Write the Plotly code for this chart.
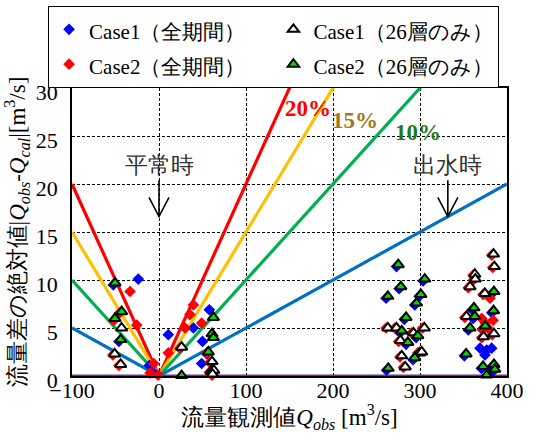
import plotly.graph_objects as go

# ---- data -------------------------------------------------------------
# error-band percentages and their colours
band_pct = [20, 15, 10, 5, 0]
band_color = ["#ff0000", "#ffc000", "#00b050", "#0070c0", "#7030a0"]
band_label_color = ["#ff0000", "#a07818", "#1f7a1f", "#3c2fd2", "#7030a0"]
band_label_x = [171, 225, 298, 423, 425]
band_label_y = [27.9, 26.6, 25.4, 19.9, 1.3]
band_x = [-100, 0, 400]

# Case1 (全期間) – blue diamonds
c1_all_x = [-52.5, -23.8, -46, -11, -8, 10.7, 39.5, 57.8, 50, 49, 55,
            273, 303.5, 276, 261, 299, 294, 282, 277, 295.5, 284, 292, 261.5,
            383, 360, 382.5, 361, 355.5, 373, 351, 370.5, 383, 384, 374.5,
            369, 376.7, 382.4, 374.7]
c1_all_y = [9.5, 10.1, 3.6, 1.1, 0.5, 4.3, 5.0, 6.9, 3.6, 1.3, 2.3,
            11.4, 9.9, 9.1, 8.1, 8.3, 7.4, 5.9, 4.5, 4.0, 3.3, 1.7, 0.6,
            8.6, 6.9, 6.6, 6.0, 4.8, 5.0, 2.1, 0.8, 1.0, 0.5, -0.1,
            2.9, 2.7, 2.9, 2.2]

# Case2 (全期間) – red diamonds
c2_all_x = [-33.3, -25.6, -10.3, -6, -1, -52, -45, -53, -46, 10.7, 30, 35.6,
            39.5, 49, 55, 24, 58.5, 58, 61,
            261, 271, 303, 290.5, 275.5, 277, 297.5, 281,
            382.5, 383.5, 361, 361.5, 355.5, 372.5, 351.5, 371, 383,
            380.5, 371, 375, 384, 378, 372]
c2_all_y = [8.8, 5.3, 0.3, 1.3, 0.1, 5.8, 6.6, 2.2, 1.1, 2.4, 5.0, 6.4,
            7.4, 5.5, 2.4, 2.9, 1.4, 0.4, 0.1,
            5.0, 5.0, 5.0, 4.5, 3.6, 2.0, 2.4, 0.9,
            12.6, 11.3, 10.5, 10.0, 9.2, 8.5, 6.1, 4.0, 4.3,
            8.1, 6.0, 5.5, 5.8, 5.0, 4.8]

# Case1 (26層のみ) – open triangles
c1_26_x = [-43, -51, -44, 26, 61, 60, 63, 61.5,
           263, 273, 305, 292.5, 277.5, 279, 299.5, 302, 283,
           384.5, 385.5, 363, 363.5, 357.5, 374.5, 353.5, 373, 385]
c1_26_y = [5.0, 2.3, 1.2, 3.0, 1.5, 0.5, 0.6, 0.2,
           5.0, 5.0, 5.0, 4.5, 3.7, 2.1, 2.4, 2.5, 0.95,
           12.7, 11.4, 10.6, 10.1, 9.3, 8.6, 6.2, 4.1, 4.4]

# Case2 (26層のみ) – green triangles
c2_26_x = [-50.6, -43, -50.6, -44, 26, 62.5, 61, 62.5, 56.7,
           275, 305.5, 278, 263, 301, 296, 284, 279, 297.5, 286, 294, 263.5,
           385, 362, 384.5, 363, 357.5, 375, 353, 372.5, 385, 386, 376.5]
c2_26_y = [9.7, 6.7, 6.0, 3.8, 0.05, 6.1, 4.4, 4.0, 2.5,
           11.6, 10.1, 9.3, 8.3, 8.5, 7.6, 6.1, 4.7, 4.2, 3.5, 1.9, 0.8,
           8.8, 7.1, 6.8, 6.2, 5.0, 5.2, 2.3, 1.0, 1.2, 0.7, 0.1]

x_ticks = [-100, 0, 100, 200, 300, 400]
y_ticks = [0, 5, 10, 15, 20, 25, 30]

# callouts: text, arrow x, text y, arrow top, arrow tip
callouts = [("平常時", 0, 21.9, 20.4, 16.6), ("出水時", 332, 21.9, 20.4, 16.6)]

SERIF = "Liberation Serif, Times New Roman, serif"


def legend_name(txt):
    # legend rows are spaced by the legend font; entries themselves drawn a bit smaller
    return f'<span style="font-size:21px">{txt}</span>'


fig = go.Figure()

# error bands |Qobs - Qcal| = p% * |Qobs|
for pct, col in zip(band_pct, band_color):
    fig.add_trace(go.Scatter(
        x=band_x, y=[pct / 100 * abs(v) for v in band_x],
        mode="lines", line=dict(color=col, width=3.2),
        showlegend=False, hoverinfo="skip"))

fig.add_trace(go.Scatter(
    x=c1_all_x, y=c1_all_y, mode="markers", name=legend_name("Case1（全期間）"),
    marker=dict(symbol="diamond", size=9, color="#0000ff", line=dict(width=0)),
    legendrank=1, cliponaxis=False))
fig.add_trace(go.Scatter(
    x=c2_all_x, y=c2_all_y, mode="markers", name=legend_name("Case2（全期間）"),
    marker=dict(symbol="diamond", size=9, color="#ff0000", line=dict(width=0)),
    legendrank=3, cliponaxis=False))
fig.add_trace(go.Scatter(
    x=c1_26_x, y=c1_26_y, mode="markers", name=legend_name("Case1（26層のみ）"),
    marker=dict(symbol="triangle-up", size=10, color="#ffffff",
                line=dict(color="#000000", width=2)),
    legendrank=2, cliponaxis=False))
fig.add_trace(go.Scatter(
    x=c2_26_x, y=c2_26_y, mode="markers", name=legend_name("Case2（26層のみ）"),
    marker=dict(symbol="triangle-up", size=10, color="#00d800",
                line=dict(color="#000000", width=2)),
    legendrank=4, cliponaxis=False))

# percentage labels next to each band
for pct, col, lx, ly in zip(band_pct, band_label_color, band_label_x, band_label_y):
    fig.add_annotation(x=lx, y=ly, text=f"<b>{pct}%</b>", showarrow=False,
                       font=dict(family=SERIF, size=23, color=col))

# callout text with open-headed arrows
HEAD_W, HEAD_H = 11.5, 2.0
for txt, ax, ty, atop, atip in callouts:
    fig.add_annotation(x=ax, y=ty, text=txt, showarrow=False,
                       font=dict(family=SERIF, size=23, color="#333333"))
    fig.add_shape(type="path", xref="x", yref="y",
                  path=(f"M {ax},{atop} L {ax},{atip} "
                        f"M {ax - HEAD_W},{atip + HEAD_H} L {ax},{atip} "
                        f"L {ax + HEAD_W},{atip + HEAD_H}"),
                  line=dict(color="#000000", width=1.6))

axis_common = dict(
    showgrid=True, gridcolor="#000000", gridwidth=1, griddash="3px,2px",
    showline=True, linecolor="#000000", linewidth=1.5, mirror=True,
    zeroline=False, ticks="", ticklen=0, automargin=False,
    tickfont=dict(family=SERIF, size=22, color="#000000"),
)

fig.update_xaxes(range=[-100, 400], tickvals=x_ticks, ticklabelstandoff=-6,
                 title=dict(text="流量観測値<i>Q</i><sub><i>obs</i></sub> [m<sup>3</sup>/s]",
                            font=dict(family=SERIF, size=23, color="#000000"),
                            standoff=13),
                 **axis_common)
fig.update_yaxes(range=[0, 30], tickvals=y_ticks, ticklabelstandoff=8,
                 ticklabelshift=4,
                 title=dict(text="流量差の絶対値|<i>Q</i><sub><i>obs</i></sub>-<i>Q</i><sub><i>cal</i></sub>|[m<sup>3</sup>/s]",
                            font=dict(family=SERIF, size=23, color="#000000"),
                            standoff=4),
                 **axis_common)

fig.update_layout(
    width=545, height=433,
    margin=dict(l=72, r=38, t=88, b=57, autoexpand=False),
    paper_bgcolor="#ffffff", plot_bgcolor="#ffffff",
    font=dict(family=SERIF, size=22, color="#000000"),
    legend=dict(orientation="h", x=-0.055, y=1.285, xanchor="left", yanchor="top",
                bgcolor="#ffffff", bordercolor="#000000", borderwidth=1,
                font=dict(family=SERIF, size=24.5, color="#000000"),
                tracegroupgap=0, itemwidth=30),
)

fig.write_html("out.html")
